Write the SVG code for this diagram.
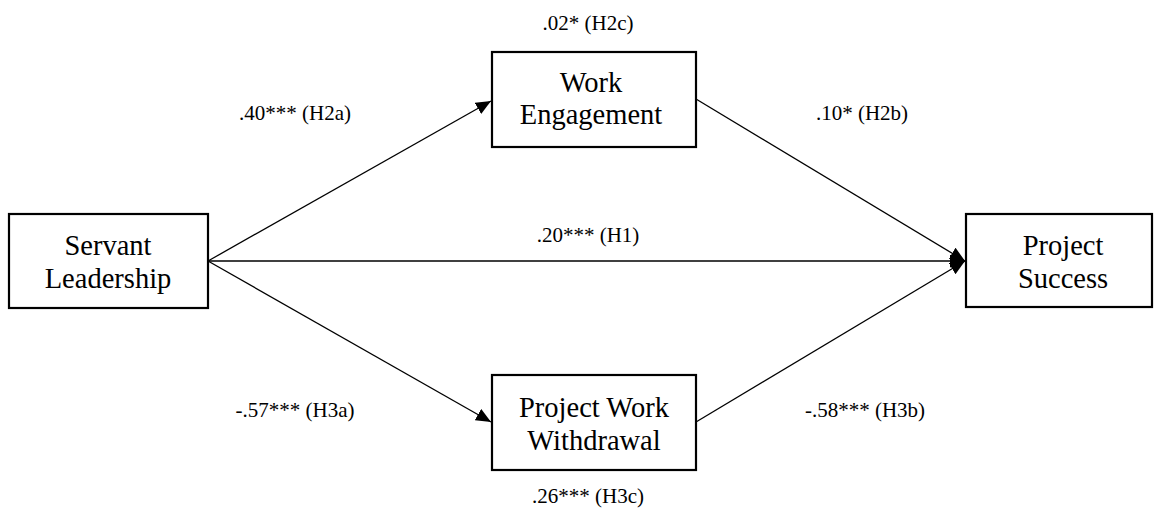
<svg xmlns="http://www.w3.org/2000/svg" width="1155" height="512" viewBox="0 0 1155 512">
<defs>
<marker id="arr" markerUnits="userSpaceOnUse" markerWidth="16" markerHeight="14" refX="15" refY="6.5" orient="auto">
<path d="M0,0 L15,6.5 L0,13 Z" fill="#000"/>
</marker>
<style>
.box{fill:#fff;stroke:#000;stroke-width:2.2}
.bt{font-size:28.5px;fill:#000;text-anchor:middle}
.lb{font-size:21px;fill:#000;text-anchor:middle}
.ln{stroke:#000;stroke-width:1.3;fill:none;marker-end:url(#arr)}
</style>
</defs>
<rect width="1155" height="512" fill="#fff"/>
<g id="connectors">
<line class="ln" x1="208" y1="261" x2="491" y2="101"/>
<line class="ln" x1="208" y1="261" x2="491" y2="422"/>
<line class="ln" x1="208" y1="261" x2="965" y2="261"/>
<line class="ln" x1="696" y1="99" x2="965" y2="261"/>
<line class="ln" x1="696" y1="422" x2="965" y2="261"/>
</g>
<g font-family="'Liberation Serif', serif">
<g id="servant-leadership">
<rect class="box" x="9" y="214" width="199" height="94"/>
<text class="bt" x="108" y="255">Servant</text>
<text class="bt" x="108" y="288">Leadership</text>
</g>
<g id="work-engagement">
<rect class="box" x="492" y="52" width="204" height="95"/>
<text class="bt" x="591" y="92">Work</text>
<text class="bt" x="591" y="124">Engagement</text>
</g>
<g id="project-work-withdrawal">
<rect class="box" x="492" y="375" width="204" height="95"/>
<text class="bt" x="594" y="417">Project Work</text>
<text class="bt" x="594" y="450">Withdrawal</text>
</g>
<g id="project-success">
<rect class="box" x="966" y="214" width="186" height="93"/>
<text class="bt" x="1063" y="255">Project</text>
<text class="bt" x="1063" y="288">Success</text>
</g>
<g id="labels">
<text class="lb" x="588" y="30">.02* (H2c)</text>
<text class="lb" x="295" y="120">.40*** (H2a)</text>
<text class="lb" x="862" y="120">.10* (H2b)</text>
<text class="lb" x="588" y="242">.20*** (H1)</text>
<text class="lb" x="295" y="417">-.57*** (H3a)</text>
<text class="lb" x="865" y="417">-.58*** (H3b)</text>
<text class="lb" x="588" y="503">.26*** (H3c)</text>
</g>
</g>
</svg>
